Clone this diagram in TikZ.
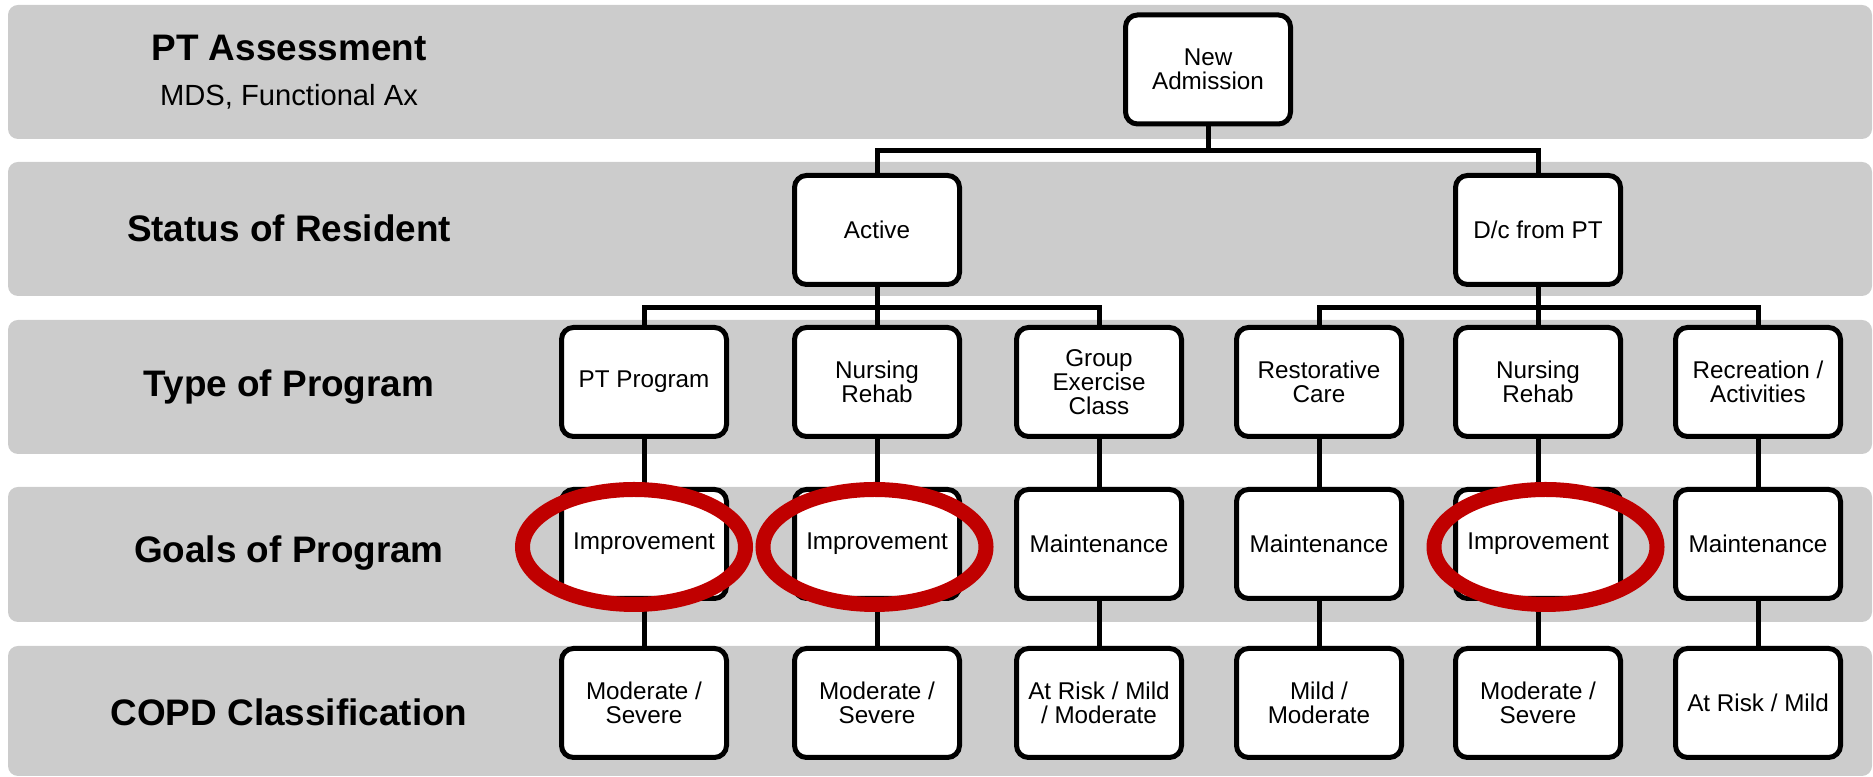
\documentclass[tikz,border=0pt]{standalone}
\usepackage{fontspec}
\setmainfont{Liberation Sans}
\usepackage{tikz}
\usepackage[dvipsnames,svgnames]{xcolor}
\usetikzlibrary{positioning}

\definecolor{bandgray}{RGB}{204,204,204}
\definecolor{ringred}{RGB}{192,0,0}

\tikzset{
  band/.style={fill=bandgray,rounded corners=0.1cm},
  box/.style={draw=black,line width=1.42pt,fill=white,rounded corners=0.12cm,
    minimum width=1.65cm,minimum height=1.09cm,inner sep=0pt,align=center,
    font=\fontsize{6.9}{6.9}\selectfont},
  rowtitle/.style={font=\fontsize{10.5}{12}\selectfont\bfseries},
  link/.style={draw=black,line width=1.42pt},
  ring/.style={draw=ringred,line width=4.27pt}
}

\begin{document}
\begin{tikzpicture}

    \useasboundingbox (0,0) rectangle (18.73,7.77);

    % grey bands
    \fill[band] (0.08,6.38) rectangle (18.72,7.72);
    \fill[band] (0.08,4.81) rectangle (18.72,6.15);
    \fill[band] (0.08,3.23) rectangle (18.72,4.57);
    \fill[band] (0.08,1.55) rectangle (18.72,2.90);
    \fill[band] (0.08,0.01) rectangle (18.72,1.31);

    \node[rowtitle] (ttlassess) at (2.89,7.29) {PT Assessment};
    \node[font=\fontsize{8.3}{10}\selectfont] (ttlmds) at (2.89,6.80) {MDS, Functional Ax};
    \node[rowtitle] (ttlstatus) at (2.89,5.49) {Status of Resident};
    \node[rowtitle] (ttltype) at (2.89,3.90) {Type of Program};
    \node[rowtitle] (ttlgoals) at (2.89,2.24) {Goals of Program};
    \node[rowtitle] (ttlcopd) at (2.89,0.65) {COPD Classification};

    % tree
    \node[box] (adm) at (12.08,7.075) {New\\Admission};

    \node[box] (act) at (8.77,5.47) {Active};
    \node[box] (dc) at (15.38,5.47) {D/c from PT};

    \node[box] (ptprog) at (6.44,3.95) {PT Program};
    \node[box] (nrsA) at (8.77,3.95) {Nursing\\Rehab};
    \node[box] (grpex) at (10.99,3.95) {Group\\Exercise\\Class};
    \node[box] (restor) at (13.19,3.95) {Restorative\\Care};
    \node[box] (nrsB) at (15.38,3.95) {Nursing\\Rehab};
    \node[box] (recr) at (17.58,3.95) {Recreation /\\Activities};

    \node[box] (goalA) at (6.44,2.33) {Improvement};
    \node[box] (goalB) at (8.77,2.33) {Improvement};
    \node[box] (goalC) at (10.99,2.33) {Maintenance};
    \node[box] (goalD) at (13.19,2.33) {Maintenance};
    \node[box] (goalE) at (15.38,2.33) {Improvement};
    \node[box] (goalF) at (17.58,2.33) {Maintenance};

    \node[box] (copdA) at (6.44,0.74) {Moderate /\\Severe};
    \node[box] (copdB) at (8.77,0.74) {Moderate /\\Severe};
    \node[box] (copdC) at (10.99,0.74) {At Risk / Mild\\/ Moderate};
    \node[box] (copdD) at (13.19,0.74) {Mild /\\Moderate};
    \node[box] (copdE) at (15.38,0.74) {Moderate /\\Severe};
    \node[box] (copdF) at (17.58,0.74) {At Risk / Mild};

    \draw[link] (adm.south) -- ++(0,-0.245) -| (act.north);
    \draw[link] (adm.south) -- ++(0,-0.245) -| (dc.north);

    \draw[link] (act.south) -- ++(0,-0.205) -| (ptprog.north);
    \draw[link] (act.south) -- (nrsA.north);
    \draw[link] (act.south) -- ++(0,-0.205) -| (grpex.north);

    \draw[link] (dc.south) -- ++(0,-0.205) -| (restor.north);
    \draw[link] (dc.south) -- (nrsB.north);
    \draw[link] (dc.south) -- ++(0,-0.205) -| (recr.north);

    \draw[link] (ptprog.south) -- (goalA.north);
    \draw[link] (nrsA.south) -- (goalB.north);
    \draw[link] (grpex.south) -- (goalC.north);
    \draw[link] (restor.south) -- (goalD.north);
    \draw[link] (nrsB.south) -- (goalE.north);
    \draw[link] (recr.south) -- (goalF.north);

    \draw[link] (goalA.south) -- (copdA.north);
    \draw[link] (goalB.south) -- (copdB.north);
    \draw[link] (goalC.south) -- (copdC.north);
    \draw[link] (goalD.south) -- (copdD.north);
    \draw[link] (goalE.south) -- (copdE.north);
    \draw[link] (goalF.south) -- (copdF.north);

    % red rings
    \draw[ring] ([xshift=-0.1cm,yshift=-0.03cm]goalA.center) ellipse (1.115 and 0.575);
    \draw[ring] ([xshift=-0.025cm,yshift=-0.03cm]goalB.center) ellipse (1.115 and 0.575);
    \draw[ring] ([xshift=0.075cm,yshift=-0.03cm]goalE.center) ellipse (1.115 and 0.575);

  \end{tikzpicture}
\end{document}
